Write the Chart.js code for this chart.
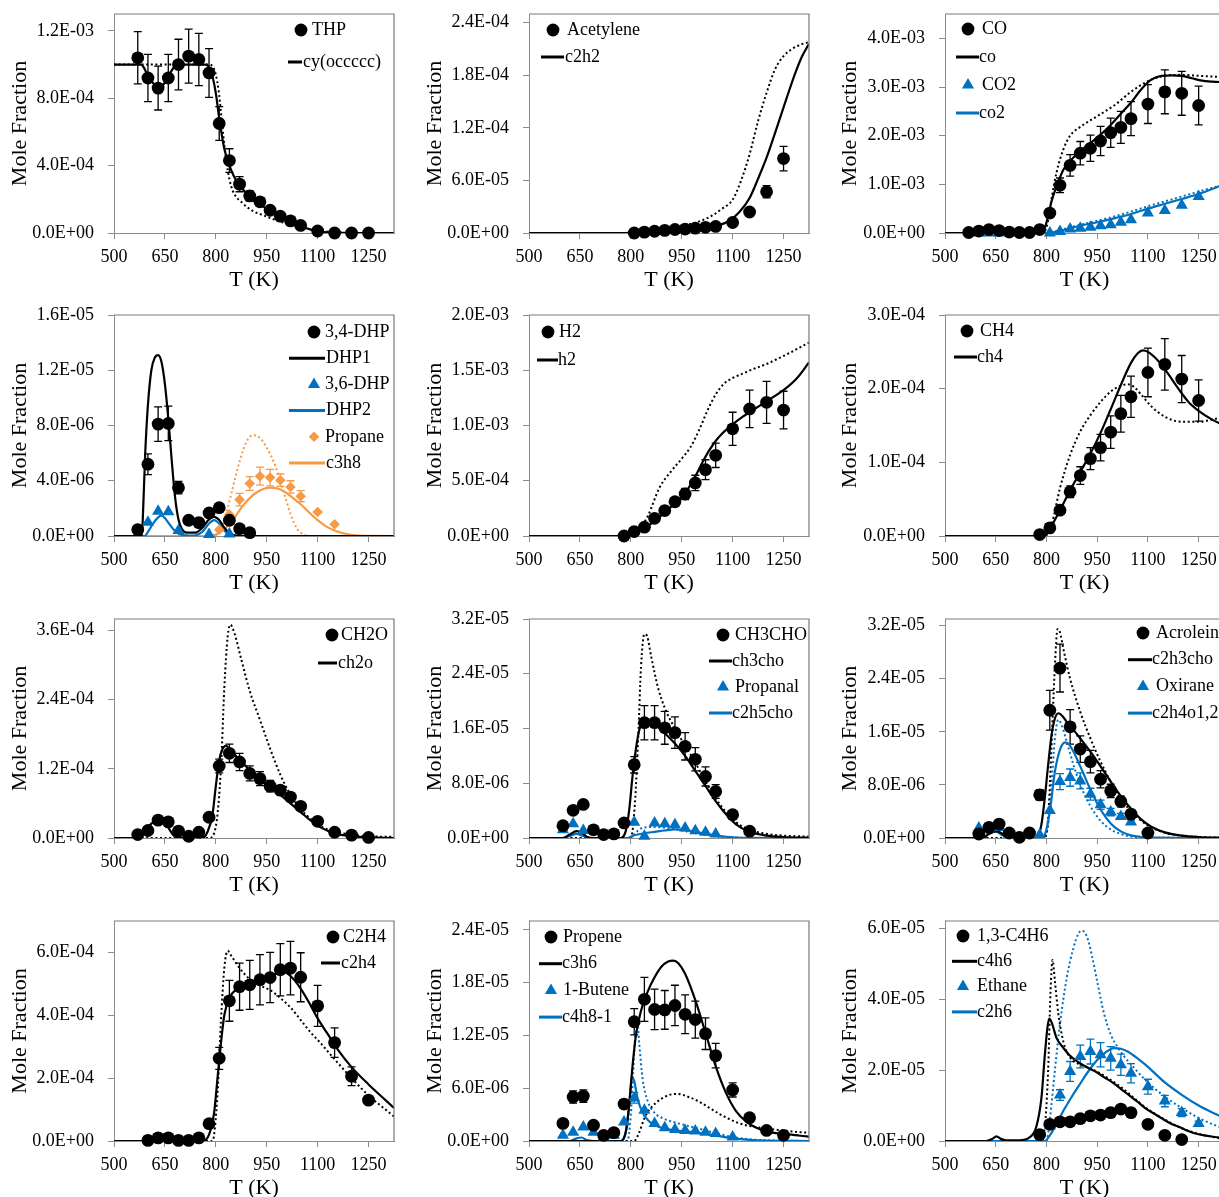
<!DOCTYPE html>
<html>
<head>
<meta charset="utf-8">
<title>Mole fraction profiles</title>
<script src="https://cdn.jsdelivr.net/npm/chart.js@4.4.1/dist/chart.umd.min.js"></script>
<style>
  html, body { margin: 0; padding: 0; background: #fff; }
  body { width: 1219px; height: 1197px; overflow: hidden; position: relative; }
  canvas { position: absolute; }
</style>
</head>
<body>
<script>
"use strict";

// ----------------------------
// Data.
// y values are in units of the panel's `unit` (see panel list below)
// ----------------------------
const xTicks = [500, 650, 800, 950, 1100, 1250];

// THP (x1e-4)
const thpTicks = [0, 4, 8, 12];
const thpT = [570,600,630,660,690,720,750,780,810,840,870,900,930,960,990,1020,1050,1100,1150,1200,1250];
const thpY = [10.4,9.2,8.6,9.2,10.0,10.5,10.3,9.5,6.5,4.3,2.9,2.2,1.85,1.35,1.0,0.72,0.45,0.12,0,0,0];
const thpErr = [1.55,1.4,1.3,1.4,1.5,1.6,1.55,1.45,1.0,0.7,0.45,0.3,0,0,0,0,0,0,0,0,0];
const cyT = [500,580,590,600,615,630,645,660,675,690,770,780,790,800,810,825,840,860,880,900,930,960,990,1020,1050,1080,1100,1150,1200,1325];
const cyY = [10,10,9.75,9.3,8.9,8.65,8.8,9.3,9.8,10,10,9.85,9.3,8.3,6.8,5.0,4.0,3.1,2.6,2.1,1.7,1.3,0.95,0.65,0.4,0.2,0.1,0.02,0,0];
const cyOldT = [500,780,790,800,808,815,822,830,840,850,880,910,940,975,1010,1050,1100,1150,1200,1325];
const cyOldY = [10,10,9.9,9.4,8.5,7.2,5.8,4.4,3.2,2.5,1.75,1.3,1.05,0.78,0.55,0.35,0.15,0.04,0,0];

// Acetylene (x1e-5)
const acetTicks = [0, 6, 12, 18, 24];
const acetT = [810,840,870,900,930,960,990,1020,1050,1100,1150,1200,1250];
const acetY = [0,0.1,0.2,0.3,0.4,0.45,0.55,0.65,0.75,1.2,2.4,4.7,8.5];
const acetErr = [0,0,0,0,0,0,0,0,0,0,0,0.7,1.4];
const c2h2T = [500,780,850,900,950,1000,1050,1090,1120,1150,1175,1200,1230,1260,1285,1305,1325];
const c2h2Y = [0,0,0.1,0.2,0.35,0.55,0.8,1.4,2.4,4.0,6.2,8.6,12.0,15.5,18.3,20.2,21.6];
const c2h2OldT = [500,800,850,900,950,1000,1040,1070,1100,1125,1150,1175,1200,1225,1250,1275,1300,1325];
const c2h2OldY = [0,0,0.15,0.4,0.8,1.3,2.0,2.8,3.8,6.0,9.0,12.8,16.0,18.7,20.2,21.0,21.5,21.8];

// CO / CO2 (x1e-3)
const coTicks = [0, 1, 2, 3, 4];
const coT = [570,600,630,660,690,720,750,780,810,840,870,900,930,960,990,1020,1050,1100,1150,1200,1250];
const coY = [0.01,0.04,0.07,0.05,0.02,0.01,0.01,0.07,0.41,0.98,1.39,1.64,1.74,1.89,2.06,2.17,2.35,2.65,2.9,2.87,2.62];
const coErr = [0,0,0,0,0,0,0,0,0.06,0.15,0.22,0.24,0.27,0.3,0.3,0.33,0.35,0.4,0.45,0.45,0.4];
const coModelT = [500,780,795,805,815,830,850,870,900,930,960,990,1020,1050,1080,1110,1140,1170,1200,1230,1260,1290,1325];
const coModelY = [0,0,0.1,0.35,0.65,0.96,1.3,1.48,1.68,1.85,2.02,2.22,2.45,2.68,2.95,3.15,3.23,3.24,3.23,3.18,3.13,3.11,3.1];
const coOldT = [500,790,805,815,830,850,870,900,950,1000,1050,1100,1150,1200,1250,1325];
const coOldY = [0,0,0.25,0.7,1.25,1.72,2.0,2.18,2.4,2.62,2.9,3.12,3.23,3.25,3.23,3.2];
const co2T = [600,630,660,810,840,870,900,930,960,990,1020,1050,1100,1150,1200,1250];
const co2Y = [0,0,0,0,0.03,0.08,0.1,0.12,0.15,0.17,0.22,0.27,0.41,0.46,0.57,0.75];
const co2ModelT = [500,800,850,900,950,1000,1050,1100,1150,1200,1250,1300,1325];
const co2ModelY = [0,0,0.06,0.15,0.22,0.3,0.39,0.5,0.6,0.7,0.8,0.93,1.0];
const co2OldT = [500,800,850,900,950,1000,1050,1100,1150,1200,1250,1325];
const co2OldY = [0,0,0.08,0.17,0.25,0.34,0.44,0.55,0.65,0.75,0.85,1.0];

// DHP / propane (x1e-6)
const dhpTicks = [0, 4, 8, 12, 16];
const dhp34T = [570,600,630,660,690,720,750,780,810,840,870,900];
const dhp34Y = [0.46,5.2,8.1,8.15,3.5,1.14,0.97,1.67,2.05,1.14,0.53,0.24];
const dhp34Err = [0,0.75,1.25,1.25,0.45,0,0,0,0,0,0,0];
const dhp1T = [500,582,586,592,600,610,620,630,640,650,660,670,680,690,700,715,740,760,780,795,810,825,840,860,880,1325];
const dhp1Y = [0,0,2.0,6.0,9.5,12.0,12.9,13.1,12.6,11.0,8.5,5.5,2.8,1.2,0.5,0.25,0.25,0.6,1.2,1.38,1.15,0.6,0.2,0.03,0,0];
const dhp36T = [600,630,660,690,780,840];
const dhp36Y = [1.0,1.8,1.75,0.4,0.1,0.15];
const dhp2T = [500,590,600,615,630,640,650,665,680,700,730,760,780,795,810,825,840,860,1325];
const dhp2Y = [0,0,0.3,0.9,1.35,1.5,1.3,0.8,0.35,0.08,0.02,0.3,0.9,1.15,0.9,0.4,0.1,0,0];
const propT = [810,840,870,900,930,960,990,1020,1050,1100,1150];
const propY = [0.46,1.55,2.63,3.8,4.33,4.23,4.04,3.55,2.88,1.74,0.85];
const propErr = [0,0,0.45,0.5,0.65,0.6,0.45,0.45,0.4,0,0];
const c3h8T = [500,780,800,820,840,860,880,900,920,940,960,980,1000,1025,1050,1075,1100,1125,1150,1175,1200,1240,1325];
const c3h8Y = [0,0,0.1,0.4,0.85,1.5,2.2,2.75,3.15,3.4,3.5,3.45,3.25,2.8,2.3,1.7,1.15,0.7,0.4,0.2,0.08,0.01,0];
const c3h8OldT = [500,790,810,830,850,870,890,910,930,950,975,990,1005,1020,1040,1060,1080,1325];
const c3h8OldY = [0,0,0.3,1.6,3.5,5.4,6.8,7.3,7.1,6.4,5.1,4.0,2.8,1.6,0.5,0.1,0,0];

// H2 (x1e-4)
const h2Ticks = [0, 5, 10, 15, 20];
const h2T = [780,810,840,870,900,930,960,990,1020,1050,1100,1150,1200,1250];
const h2Y = [0,0.4,0.8,1.6,2.3,3.1,3.8,4.8,6.0,7.3,9.7,11.5,12.1,11.4];
const h2Err = [0,0,0,0,0,0.3,0.5,0.7,0.9,1.1,1.5,1.7,1.9,1.7];
const h2ModelT = [500,790,820,850,880,910,940,965,990,1010,1030,1050,1070,1100,1130,1160,1200,1250,1290,1325];
const h2ModelY = [0,0,0.4,0.9,1.6,2.4,3.2,4.1,5.4,6.6,7.7,8.6,9.3,10.1,10.8,11.4,12.2,13.2,14.3,15.7];
const h2OldT = [500,815,830,850,885,920,950,975,1000,1025,1050,1075,1100,1130,1160,1195,1230,1270,1300,1325];
const h2OldY = [0,0,0.8,1.8,4.4,5.9,7.0,8.0,9.5,11.3,12.8,13.8,14.3,14.7,15.1,15.5,16.0,16.6,17.1,17.5];

// CH4 (x1e-4)
const ch4Ticks = [0, 1, 2, 3];
const ch4T = [780,810,840,870,900,930,960,990,1020,1050,1100,1150,1200,1250];
const ch4Y = [0.02,0.11,0.35,0.6,0.82,1.05,1.2,1.41,1.66,1.89,2.22,2.33,2.13,1.84];
const ch4Err = [0,0,0,0.08,0.12,0.15,0.18,0.22,0.25,0.28,0.33,0.35,0.32,0.28];
const ch4ModelT = [500,790,810,840,870,900,930,960,990,1020,1050,1070,1085,1100,1130,1160,1190,1220,1250,1290,1325];
const ch4ModelY = [0,0,0.1,0.35,0.62,0.87,1.12,1.4,1.72,2.05,2.35,2.48,2.52,2.5,2.38,2.2,2.0,1.82,1.7,1.58,1.5];
const ch4OldT = [500,795,815,840,870,900,930,960,990,1020,1040,1060,1080,1110,1150,1200,1250,1290,1325];
const ch4OldY = [0,0,0.15,0.65,1.1,1.42,1.64,1.82,1.96,2.04,2.06,2.02,1.92,1.76,1.62,1.55,1.55,1.58,1.62];

// CH2O (x1e-5)
const ch2oTicks = [0, 12, 24, 36];
const ch2oT = [570,600,630,660,690,720,750,780,810,840,870,900,930,960,990,1020,1050,1100,1150,1200,1250];
const ch2oY = [0.6,1.3,3.1,2.8,1.2,0.3,1.0,3.6,12.5,14.7,13.2,11.2,10.3,9.0,8.3,7.1,5.5,2.9,1.0,0.5,0.1];
const ch2oErr = [0,0,0,0,0,0,0,0,1.2,1.6,1.5,1.3,1.2,1.0,0.8,0.7,0,0,0,0,0];
const ch2oModelT = [500,570,590,610,630,645,660,675,690,760,775,790,800,810,820,830,840,860,880,900,930,960,990,1020,1050,1080,1110,1150,1200,1250,1325];
const ch2oModelY = [0,0,1.0,2.5,3.2,3.0,1.8,0.5,0,0,1.0,4.0,9.0,13.5,15.5,16.0,15.5,14.2,13.0,11.8,10.2,8.8,7.5,6.0,4.5,3.0,1.8,0.8,0.3,0.1,0];
const ch2oOldT = [500,780,800,815,825,835,843,855,875,900,930,960,990,1020,1050,1080,1110,1150,1200,1250,1325];
const ch2oOldY = [0,0,2,12,26,35,37,35.5,31,25.5,20.5,15.5,11,7.5,5,3.3,2,1.1,0.6,0.3,0.2];

// CH3CHO / propanal (x1e-6)
const ch3choTicks = [0, 8, 16, 24, 32];
const ch3choT = [600,630,660,690,720,750,780,810,840,870,900,930,960,990,1020,1050,1100,1150];
const ch3choY = [1.8,4.05,4.9,1.2,0.5,0.6,2.2,10.7,16.85,16.85,16.1,15.4,13.4,11.5,9.0,6.8,3.4,1.0];
const ch3choErr = [0,0,0,0,0,0,0,1.2,2.5,2.5,2.4,2.3,2.0,1.7,1.4,1.0,0,0];
const ch3choModelT = [500,600,620,640,655,670,690,770,785,795,805,815,825,835,850,870,900,930,960,990,1020,1050,1080,1110,1150,1200,1250,1325];
const ch3choModelY = [0,0,0.5,1.0,0.8,0.2,0,0,1.0,4.0,9.0,13.0,15.8,16.8,16.9,16.6,15.3,13.8,12.0,9.8,7.6,5.4,3.5,2.0,0.9,0.35,0.15,0.05];
const ch3choOldT = [500,800,812,822,830,840,848,860,880,900,930,960,990,1020,1050,1080,1110,1150,1200,1250,1325];
const ch3choOldY = [0,0,5,15,25,29.8,29.5,26.5,22,19,16,13.5,11,8.3,5.8,3.8,2.3,1.2,0.6,0.35,0.2];
const propanalT = [600,630,660,810,840,870,900,930,960,990,1020,1050];
const propanalY = [1.2,2.1,1.1,2.3,0.25,2.2,2.1,1.95,1.45,1.05,0.85,0.6];
const c2h5choT = [500,600,620,640,660,680,790,810,840,870,900,930,960,990,1020,1050,1100,1150,1325];
const c2h5choY = [0,0,0.3,0.6,0.3,0,0,0.4,0.7,0.9,1.1,1.25,1.15,0.9,0.6,0.35,0.1,0.02,0];
const c2h5choOldT = [500,800,815,830,860,900,940,980,1020,1060,1100,1150,1325];
const c2h5choOldY = [0,0,0.8,1.4,1.6,1.5,1.2,0.8,0.45,0.2,0.08,0,0];

// Acrolein / oxirane (x1e-6)
const acroTicks = [0, 8, 16, 24, 32];
const acroT = [600,630,660,690,720,750,780,810,840,870,900,930,960,990,1020,1050,1100];
const acroY = [0.6,1.6,2.1,0.75,0.1,0.75,6.5,19.25,25.6,16.75,13.4,11.5,8.85,7.1,5.5,3.6,0.75];
const acroErr = [0,0,0,0,0,0,0.8,3.0,3.6,2.6,2.0,1.7,1.3,1.0,0.8,0.5,0];
const c2h3choT = [500,610,630,650,665,680,700,770,785,795,805,815,825,835,845,860,880,900,930,960,990,1020,1050,1080,1110,1150,1200,1250,1325];
const c2h3choY = [0,0,0.6,1.0,0.8,0.2,0,0,2,6,11,15.5,18,18.8,18.5,17.5,16.3,15.0,13.0,10.8,8.5,6.3,4.4,2.8,1.7,0.85,0.35,0.15,0.05];
const c2h3choOldT = [500,795,805,815,825,833,840,850,870,900,930,960,990,1020,1050,1080,1110,1150,1200,1250,1325];
const c2h3choOldY = [0,0,3,14,26,31.5,31,28.5,24,19,15,11.5,8.5,6,4.0,2.6,1.6,0.8,0.35,0.15,0.05];
const oxiT = [600,630,660,690,780,810,840,870,900,930,960,990,1020,1050];
const oxiY = [1.5,1.4,1.6,0.5,0.5,4.15,8.5,9.1,8.6,6.6,5.0,3.9,3.25,2.4];
const oxiErr = [0,0,0,0,0,0,1.2,1.3,1.2,0.9,0.7,0.55,0.45,0.35];
const oxiModelT = [500,610,630,650,670,690,780,795,810,825,840,855,865,880,900,930,960,990,1020,1050,1080,1110,1325];
const oxiModelY = [0,0,0.7,1.0,0.4,0,0,0.5,4,10,13.3,14.4,14.2,13,10.8,7.3,4.3,2.2,1.0,0.4,0.15,0.05,0];
const oxiOldT = [500,790,805,815,825,835,845,860,880,900,930,960,990,1020,1050,1100,1325];
const oxiOldY = [0,0,2,8,15,17.8,17,14.5,11,8,4.8,2.6,1.3,0.6,0.2,0.05,0];

// C2H4 (x1e-4)
const c2h4Ticks = [0, 2, 4, 6];
const c2h4T = [600,630,660,690,720,750,780,810,840,870,900,930,960,990,1020,1050,1100,1150,1200,1250];
const c2h4Y = [0.02,0.1,0.1,0.02,0.02,0.1,0.55,2.63,4.46,4.91,4.97,5.13,5.2,5.45,5.5,5.21,4.3,3.13,2.06,1.3];
const c2h4Err = [0,0,0,0,0,0,0,0.35,0.65,0.75,0.78,0.8,0.8,0.83,0.85,0.78,0.65,0.47,0.3,0.12];
const c2h4ModelT = [500,760,780,795,805,815,825,840,860,890,920,950,980,1000,1020,1050,1080,1100,1130,1160,1200,1250,1300,1325];
const c2h4ModelY = [0,0,0.2,0.9,2.0,3.1,4.0,4.55,4.82,4.95,5.08,5.2,5.33,5.37,5.25,4.85,4.3,3.9,3.4,2.9,2.35,1.8,1.3,1.05];
const c2h4OldT = [500,790,805,815,825,835,845,870,900,930,960,990,1020,1050,1080,1110,1150,1200,1250,1300,1325];
const c2h4OldY = [0,0,1.5,3.8,5.5,6.05,5.9,5.5,5.15,4.95,4.8,4.55,4.25,3.85,3.45,3.1,2.6,2.0,1.45,1.0,0.78];

// Propene / 1-butene (x1e-6)
const propeneTicks = [0, 6, 12, 18, 24];
const propeneT = [600,630,660,690,720,750,780,810,840,870,900,930,960,990,1020,1050,1100,1150,1200,1250];
const propeneY = [2.0,5.0,5.1,1.8,0.65,0.95,4.2,13.55,16.1,14.95,14.9,15.4,14.4,13.8,12.2,9.7,5.8,2.65,1.2,0.65];
const propeneErr = [0,0.7,0.7,0,0,0,0.5,1.5,2.5,2.3,2.2,2.3,2.2,2.1,1.8,1.4,0.8,0,0,0];
const c3h6T = [500,770,785,795,805,815,830,850,870,890,910,925,940,960,990,1020,1050,1080,1110,1140,1170,1200,1250,1300,1325];
const c3h6Y = [0,0,1,4,8.5,12,14.8,17,18.6,19.8,20.4,20.5,20.2,19.0,16.0,12.3,8.5,5.5,3.4,2.2,1.5,1.1,0.8,0.6,0.5];
const c3h6OldT = [500,810,825,840,860,890,920,940,970,1000,1030,1060,1090,1120,1150,1200,1250,1300,1325];
const c3h6OldY = [0,0,1.0,2.6,3.8,4.8,5.3,5.35,5.0,4.5,3.8,3.1,2.5,2.0,1.7,1.4,1.2,1.0,0.95];
const buteneT = [600,630,660,690,720,750,780,810,840,870,900,930,960,990,1020,1050,1100];
const buteneY = [0.65,1.0,1.6,1.0,0.45,0.65,2.15,4.9,3.5,2.0,1.5,1.3,1.2,1.15,1.0,0.85,0.45];
const buteneErr = [0,0,0,0,0,0,0,0.6,0,0,0,0,0,0,0,0,0];
const c4h8T = [500,620,640,655,670,690,770,785,795,803,810,820,835,850,870,900,940,980,1020,1060,1100,1150,1200,1325];
const c4h8Y = [0,0,0.3,0.4,0.1,0,0,1,4,7.3,6.8,4.8,3.2,2.4,1.8,1.4,1.15,1.0,0.8,0.55,0.3,0.12,0.04,0];
const c4h8OldT = [500,790,800,810,818,825,835,850,870,900,940,980,1020,1060,1100,1150,1200,1325];
const c4h8OldY = [0,0,3,10,14.2,11,7,4.5,3.2,2.5,2.0,1.6,1.2,0.8,0.45,0.2,0.08,0];

// 1,3-C4H6 / ethane (x1e-6)
const c4h6Ticks = [0, 20, 40, 60];
const c4h6T = [780,810,840,870,900,930,960,990,1020,1050,1100,1150,1200];
const c4h6Y = [1.8,4.7,5.4,5.4,6.3,7.1,7.3,8.0,9.0,8.0,4.7,1.6,0.4];
const c4h6ModelT = [500,620,640,652,665,680,720,750,770,785,795,803,808,815,830,848,870,897,920,946,970,995,1020,1044,1070,1093,1120,1142,1170,1191,1220,1240,1280,1325];
const c4h6ModelY = [0,0,0.6,1.3,0.6,0.2,0.2,1.0,4,12,24,32,34.5,33.5,29,26.5,24,22,20.8,19.5,18,16.5,14.7,12.9,11,9.2,7.6,6.3,4.8,4.0,2.8,2.1,1.4,0.8];
const c4h6OldT = [500,780,795,805,812,818,825,835,850,870,900,930,960,990,1020,1050,1080,1110,1140,1170,1200,1250,1300,1325];
const c4h6OldY = [0,0,4,20,42,51,45,36,28,23.5,21.5,20.4,19.0,17.2,15.2,12.9,10.4,8.3,6.6,5.0,3.6,2.0,1.0,0.7];
const ethT = [810,840,870,900,930,960,990,1020,1050,1100,1150,1200,1250];
const ethY = [4.25,12.95,19.6,23.8,25.2,24.3,23.3,21.5,19.1,15.3,11.25,8.0,4.9];
const ethErr = [0,1.5,2.8,3.2,3.5,3.4,3.3,3.0,2.7,2.1,1.6,1.1,0.7];
const c2h6T = [500,795,810,830,850,875,900,925,950,975,1000,1020,1040,1070,1100,1150,1200,1250,1300,1325];
const c2h6Y = [0,0,1.6,4.8,8.5,12.5,16.2,19.8,22.8,25,26.2,26,25.2,23.2,20.9,16.5,13.0,10.0,7.6,6.5];
const c2h6OldT = [500,800,810,825,840,860,880,895,905,920,935,950,970,990,1010,1030,1060,1100,1150,1200,1250,1300,1325];
const c2h6OldY = [0,0,6,20,33,46,54.5,58.5,59.3,57.5,52,45,36,30,26.5,23.8,20.5,16.5,12.5,9.3,6.5,4.4,3.6];

// ----------------------------
// Styles and layout
// ----------------------------
const BLACK = "#000000", BLUE = "#0070C0", ORANGE = "#F79A45";
const AXIS = "#8c8c8c", FRAME = "#7a7a7a";
const FONT = "'Liberation Serif', 'Times New Roman', serif";
const markerRadius = { circle: 6.4, triangle: 7, rectRot: 5.3 };

const colLeft = [0, 415, 830];
const yAxisWidth = [114, 114, 115];
const rowTop = [14, 315, 619, 921];
const rowHeight = [219, 221, 219, 220];

function exp(label, marker, color, t, y, err) { return { kind: "exp", label, marker, color, t, y, err }; }
function model(label, color, t, y) { return { kind: "model", label, color, t, y }; }
function old(color, t, y) { return { kind: "old", color, t, y }; }

const panels = [
  { unit: 1e-4, yMax: 13, yTicks: thpTicks,
    legend: { x: 187, y: 16, dy: 32, tx: 11, l0: -13, l1: 1, lt: 2 },
    series: [exp("THP", "circle", BLACK, thpT, thpY, thpErr), model("cy(occccc)", BLACK, cyT, cyY), old(BLACK, cyOldT, cyOldY)] },
  { unit: 1e-5, yMax: 25, yTicks: acetTicks,
    legend: { x: 24, y: 16, dy: 27 },
    series: [exp("Acetylene", "circle", BLACK, acetT, acetY, acetErr), model("c2h2", BLACK, c2h2T, c2h2Y), old(BLACK, c2h2OldT, c2h2OldY)] },
  { unit: 1e-3, yMax: 4.5, yTicks: coTicks,
    legend: { x: 23, y: 15, dy: 28, lt: 11 },
    series: [exp("CO", "circle", BLACK, coT, coY, coErr), model("co", BLACK, coModelT, coModelY), old(BLACK, coOldT, coOldY),
             exp("CO2", "triangle", BLUE, co2T, co2Y, null), model("co2", BLUE, co2ModelT, co2ModelY), old(BLUE, co2OldT, co2OldY)] },
  { unit: 1e-6, yMax: 16, yTicks: dhpTicks,
    legend: { x: 200, y: 17, dy: 26.2, tx: 11, l0: -25, l1: 11, lt: 12 },
    series: [exp("3,4-DHP", "circle", BLACK, dhp34T, dhp34Y, dhp34Err), model("DHP1", BLACK, dhp1T, dhp1Y),
             exp("3,6-DHP", "triangle", BLUE, dhp36T, dhp36Y, null), model("DHP2", BLUE, dhp2T, dhp2Y),
             exp("Propane", "rectRot", ORANGE, propT, propY, propErr), model("c3h8", ORANGE, c3h8T, c3h8Y), old(ORANGE, c3h8OldT, c3h8OldY)] },
  { unit: 1e-4, yMax: 20, yTicks: h2Ticks,
    legend: { x: 19, y: 17, dy: 28, tx: 11, l0: -11, l1: 10, lt: 10 },
    series: [exp("H2", "circle", BLACK, h2T, h2Y, h2Err), model("h2", BLACK, h2ModelT, h2ModelY), old(BLACK, h2OldT, h2OldY)] },
  { unit: 1e-4, yMax: 3, yTicks: ch4Ticks,
    legend: { x: 22, y: 16, dy: 26, tx: 13, l0: -13, l1: 10, lt: 10 },
    series: [exp("CH4", "circle", BLACK, ch4T, ch4Y, ch4Err), model("ch4", BLACK, ch4ModelT, ch4ModelY), old(BLACK, ch4OldT, ch4OldY)] },
  { unit: 1e-5, yMax: 38, yTicks: ch2oTicks,
    legend: { x: 218, y: 16, dy: 28, tx: 9, l0: -14, l1: 5, lt: 6 },
    series: [exp("CH2O", "circle", BLACK, ch2oT, ch2oY, ch2oErr), model("ch2o", BLACK, ch2oModelT, ch2oModelY), old(BLACK, ch2oOldT, ch2oOldY)] },
  { unit: 1e-6, yMax: 32, yTicks: ch3choTicks,
    legend: { x: 194, y: 16, dy: 26, tx: 12, l0: -14, l1: 9, lt: 9 },
    series: [exp("CH3CHO", "circle", BLACK, ch3choT, ch3choY, ch3choErr), model("ch3cho", BLACK, ch3choModelT, ch3choModelY), old(BLACK, ch3choOldT, ch3choOldY),
             exp("Propanal", "triangle", BLUE, propanalT, propanalY, null), model("c2h5cho", BLUE, c2h5choT, c2h5choY), old(BLUE, c2h5choOldT, c2h5choOldY)] },
  { unit: 1e-6, yMax: 33, yTicks: acroTicks,
    legend: { x: 198, y: 14, dy: 26.7, tx: 13, l0: -15, l1: 9, lt: 9 },
    series: [exp("Acrolein", "circle", BLACK, acroT, acroY, acroErr), model("c2h3cho", BLACK, c2h3choT, c2h3choY), old(BLACK, c2h3choOldT, c2h3choOldY),
             exp("Oxirane", "triangle", BLUE, oxiT, oxiY, oxiErr), model("c2h4o1,2", BLUE, oxiModelT, oxiModelY), old(BLUE, oxiOldT, oxiOldY)] },
  { unit: 1e-4, yMax: 7, yTicks: c2h4Ticks,
    legend: { x: 219, y: 16, dy: 26, tx: 10, l0: -12, l1: 7, lt: 8 },
    series: [exp("C2H4", "circle", BLACK, c2h4T, c2h4Y, c2h4Err), model("c2h4", BLACK, c2h4ModelT, c2h4ModelY), old(BLACK, c2h4OldT, c2h4OldY)] },
  { unit: 1e-6, yMax: 25, yTicks: propeneTicks,
    legend: { x: 22, y: 16, dy: 26.7, tx: 12, l0: -12, l1: 11, lt: 11 },
    series: [exp("Propene", "circle", BLACK, propeneT, propeneY, propeneErr), model("c3h6", BLACK, c3h6T, c3h6Y), old(BLACK, c3h6OldT, c3h6OldY),
             exp("1-Butene", "triangle", BLUE, buteneT, buteneY, buteneErr), model("c4h8-1", BLUE, c4h8T, c4h8Y), old(BLUE, c4h8OldT, c4h8OldY)] },
  { unit: 1e-6, yMax: 62, yTicks: c4h6Ticks,
    legend: { x: 18, y: 15, dy: 25.3, tx: 14, l0: -11, l1: 14, lt: 14 },
    series: [exp("1,3-C4H6", "circle", BLACK, c4h6T, c4h6Y, null), model("c4h6", BLACK, c4h6ModelT, c4h6ModelY), old(BLACK, c4h6OldT, c4h6OldY),
             exp("Ethane", "triangle", BLUE, ethT, ethY, ethErr), model("c2h6", BLUE, c2h6T, c2h6Y), old(BLUE, c2h6OldT, c2h6OldY)] }
];

// ----------------------------
// Helpers
// ----------------------------
function sci(v) {
  if (Math.abs(v) < 1e-15) return "0.0E+00";
  let e = Math.floor(Math.log10(Math.abs(v)));
  let m = v / Math.pow(10, e);
  if (Math.round(m * 10) / 10 >= 10) { m /= 10; e += 1; }
  return m.toFixed(1) + "E" + (e < 0 ? "-" : "+") + String(Math.abs(e)).padStart(2, "0");
}

function drawMarker(ctx, style, x, y, r) {
  ctx.beginPath();
  if (style === "circle") {
    ctx.arc(x, y, r, 0, Math.PI * 2);
  } else if (style === "triangle") {
    let a = 0;
    ctx.moveTo(x + Math.sin(a) * r, y - Math.cos(a) * r);
    a += 2 * Math.PI / 3;
    ctx.lineTo(x + Math.sin(a) * r, y - Math.cos(a) * r);
    a += 2 * Math.PI / 3;
    ctx.lineTo(x + Math.sin(a) * r, y - Math.cos(a) * r);
    ctx.closePath();
  } else {
    ctx.moveTo(x - r, y); ctx.lineTo(x, y - r); ctx.lineTo(x + r, y); ctx.lineTo(x, y + r);
    ctx.closePath();
  }
  ctx.fill();
}

function buildDatasets(p) {
  return p.series.map(s => {
    const data = s.t.map((t, i) => ({ x: t, y: s.y[i] * p.unit }));
    if (s.kind === "exp") {
      return {
        data, order: 0, showLine: false, clip: false,
        pointStyle: s.marker, pointRadius: markerRadius[s.marker],
        pointBackgroundColor: s.color, pointBorderColor: s.color, pointBorderWidth: 0
      };
    }
    return {
      data, order: s.kind === "model" ? 1 : 2, showLine: true, pointRadius: 0,
      borderColor: s.color, borderWidth: s.kind === "model" ? 2.2 : 2,
      borderDash: s.kind === "old" ? [2, 2.6] : [],
      cubicInterpolationMode: "monotone", fill: false
    };
  });
}

// error bars, frame and in-plot legend
function panelPlugin(p) {
  return {
    id: "panelDecor",
    beforeDatasetsDraw(chart) {
      const { ctx, scales: { x, y } } = chart;
      ctx.save();
      ctx.lineWidth = 1.3;
      p.series.filter(s => s.kind === "exp" && s.err).forEach(s => {
        ctx.strokeStyle = s.color;
        s.t.forEach((t, i) => {
          const e = s.err[i];
          if (!e) return;
          const px = x.getPixelForValue(t);
          const top = y.getPixelForValue((s.y[i] + e) * p.unit);
          const bot = y.getPixelForValue((s.y[i] - e) * p.unit);
          ctx.beginPath();
          ctx.moveTo(px, top); ctx.lineTo(px, bot);
          ctx.moveTo(px - 4, top); ctx.lineTo(px + 4, top);
          ctx.moveTo(px - 4, bot); ctx.lineTo(px + 4, bot);
          ctx.stroke();
        });
      });
      ctx.restore();
    },
    afterDraw(chart) {
      const { ctx, chartArea: a } = chart;
      ctx.save();
      ctx.strokeStyle = FRAME;
      ctx.lineWidth = 1.2;
      ctx.beginPath();
      ctx.moveTo(a.left, a.top); ctx.lineTo(a.right, a.top); ctx.lineTo(a.right, a.bottom);
      ctx.stroke();

      const L = Object.assign({ tx: 14, l0: -12, l1: 11, lt: 12 }, p.legend);
      ctx.font = "18px " + FONT;
      ctx.textBaseline = "middle";
      ctx.textAlign = "left";
      p.series.filter(s => s.label).forEach((s, i) => {
        const cx = a.left + L.x;
        const cy = a.top + L.y + i * L.dy;
        ctx.fillStyle = s.color;
        ctx.strokeStyle = s.color;
        if (s.kind === "exp") {
          drawMarker(ctx, s.marker, cx, cy, markerRadius[s.marker]);
          ctx.fillStyle = "#000";
          ctx.fillText(s.label, cx + L.tx, cy);
        } else {
          ctx.lineWidth = 3;
          ctx.beginPath();
          ctx.moveTo(cx + L.l0, cy); ctx.lineTo(cx + L.l1, cy);
          ctx.stroke();
          ctx.fillStyle = "#000";
          ctx.fillText(s.label, cx + L.lt, cy);
        }
      });
      ctx.restore();
    }
  };
}

function makeChart(p, idx) {
  const col = idx % 3, row = Math.floor(idx / 3);
  const canvas = document.createElement("canvas");
  canvas.width = 410;
  canvas.height = rowHeight[row] + 80;
  canvas.style.left = colLeft[col] + "px";
  canvas.style.top = (rowTop[row] - 14) + "px";
  document.body.appendChild(canvas);

  return new Chart(canvas.getContext("2d"), {
    type: "scatter",
    data: { datasets: buildDatasets(p) },
    options: {
      responsive: false,
      animation: false,
      events: [],
      layout: { padding: { top: 14, right: 16, bottom: 2, left: 0 } },
      plugins: { legend: { display: false }, tooltip: { enabled: false } },
      scales: {
        x: {
          type: "linear", min: 500, max: 1325,
          afterBuildTicks: s => { s.ticks = xTicks.map(v => ({ value: v })); },
          afterFit: s => { s.height = 64; },
          ticks: { font: { family: FONT, size: 18 }, color: "#000", padding: 7, autoSkip: false, maxRotation: 0,
                   callback: v => String(v) },
          grid: { drawOnChartArea: false, drawTicks: true, tickLength: 6, color: AXIS },
          border: { color: AXIS, width: 1 },
          title: { display: true, text: "T (K)", color: "#000", font: { family: FONT, size: 22 }, padding: { top: 0, bottom: 4 } }
        },
        y: {
          type: "linear", min: 0, max: p.yMax * p.unit,
          afterBuildTicks: s => { s.ticks = p.yTicks.map(v => ({ value: v * p.unit })); },
          // fixed width; drop the label overhang so the plot keeps its full height
          afterFit: s => { s.width = yAxisWidth[col]; s.paddingTop = 0; s.paddingBottom = 0; },
          ticks: { font: { family: FONT, size: 18 }, color: "#000", padding: 14, callback: v => sci(v) },
          grid: { drawOnChartArea: false, drawTicks: true, tickLength: 6, color: AXIS },
          border: { color: AXIS, width: 1 },
          title: { display: true, text: "Mole Fraction", color: "#000", font: { family: FONT, size: 22 }, padding: { top: 7, bottom: 0 } }
        }
      }
    },
    plugins: [panelPlugin(p)]
  });
}

// ----------------------------
// Init
// ----------------------------
panels.forEach(makeChart);
</script>
</body>
</html>
